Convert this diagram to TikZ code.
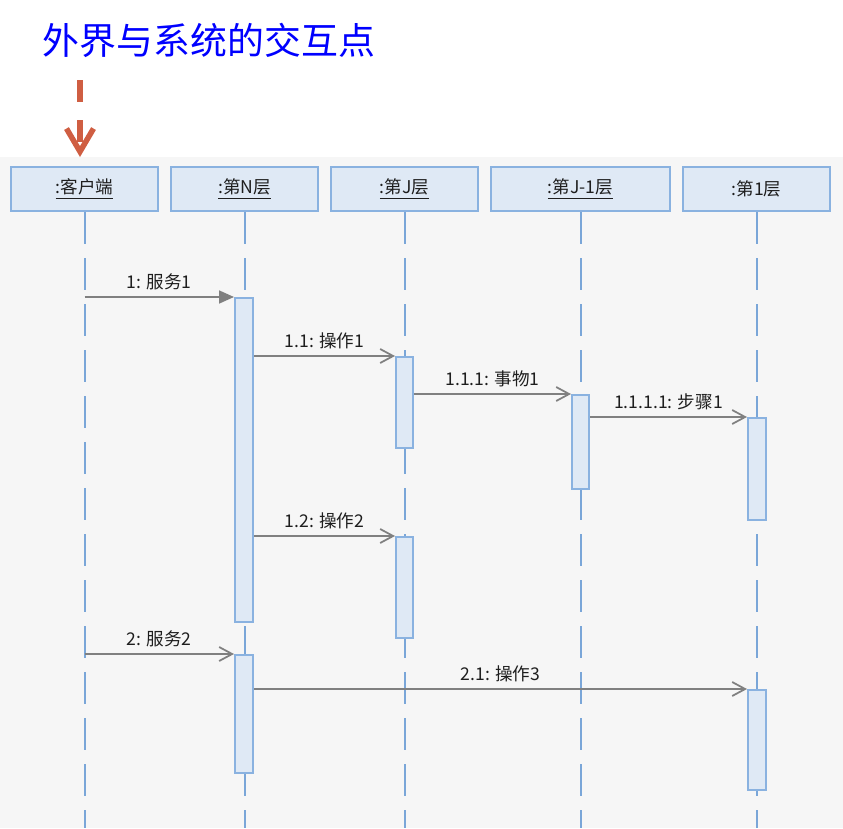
\documentclass[tikz,border=0pt]{standalone}
\usepackage{fontspec}
\setmainfont{Noto Sans CJK SC}
\usepackage{tikz}
\usetikzlibrary{arrows.meta, positioning, fit, backgrounds}
\definecolor{titlecolor}{RGB}{0,0,255}
\definecolor{cuecolor}{RGB}{207,94,66}
\definecolor{lifecolor}{RGB}{122,166,216}
\definecolor{boxfill}{RGB}{223,233,245}
\definecolor{boxline}{RGB}{138,178,224}
\definecolor{msgcolor}{RGB}{128,128,128}
\definecolor{paper}{RGB}{246,246,246}
\definecolor{textcolor}{RGB}{30,30,30}

\begin{document}
\begin{tikzpicture}[x=0.2mm, y=-0.2mm,
    lifebox/.style={rectangle, draw=boxline, line width=0.4mm, fill=boxfill, minimum width=29.4mm, minimum height=8.8mm, inner sep=0pt, text=textcolor, font=\fontsize{10}{12}\selectfont},
    lifeline/.style={draw=lifecolor, line width=0.4mm, dash pattern=on 6.4mm off 2.8mm},
    actbar/.style={rectangle, draw=boxline, line width=0.4mm, fill=boxfill, inner sep=0pt},
    msg/.style={draw=msgcolor, line width=0.35mm, -{Straight Barb[length=2.6mm, width=2.8mm]}},
    msgfill/.style={draw=msgcolor, line width=0.35mm, -{Triangle[length=3mm, width=2.6mm]}, msgcolor},
    msglabel/.style={midway, above, inner sep=1.2mm, text=textcolor, font=\fontsize{10}{12}\selectfont}]
    \useasboundingbox (0,0) rectangle (843,828);
    \fill[paper] (0,157) rectangle (843,828);

    % title and cue
    \node[text=titlecolor, font=\fontsize{21}{25}\selectfont] (title) at (209,40) {外界与系统的交互点};
    \coordinate (cuestart) at (80,80);
    \coordinate (cueend) at (80,157);
    \draw[cuecolor, line width=1.1mm, dash pattern=on 4.4mm off 3.6mm, -{Straight Barb[length=4.6mm, width=5.4mm]}] (cuestart) -- (cueend);

    % lifelines
    \node[lifebox] (client) at (84.5,189) {\underline{:客户端}};
    \node[lifebox] (layerN) at (244.5,189) {\underline{:第N层}};
    \node[lifebox] (layerJ) at (404.5,189) {\underline{:第J层}};
    \node[lifebox, minimum width=35.8mm] (layerJm) at (580.5,189) {\underline{:第J-1层}};
    \node[lifebox] (layer1) at (756.5,189) {:第1层};
    \foreach \n in {client, layerN, layerJ, layerJm, layer1}
        \draw[lifeline] (\n.south) -- (\n.south |- 0,828);

    % activations
    \node[actbar, fit={(235,298) (253,622)}] (nbar1) {};
    \node[actbar, fit={(396,357) (413,448)}] (jbar1) {};
    \node[actbar, fit={(572,395) (589,489)}] (jmbar) {};
    \node[actbar, fit={(748,418) (766,520)}] (onebar1) {};
    \node[actbar, fit={(396,537) (413,638)}] (jbar2) {};
    \node[actbar, fit={(235,655) (253,773)}] (nbar2) {};
    \node[actbar, fit={(748,690) (766,790)}] (onebar2) {};

    % messages
    \draw[msgfill] (client |- nbar1.north) -- node[msglabel] {1: 服务1} (nbar1.north west);
    \draw[msg] (nbar1.east |- jbar1.north) -- node[msglabel] {1.1: 操作1} (jbar1.north west);
    \draw[msg] (jbar1.east |- jmbar.north) -- node[msglabel] {1.1.1: 事物1} (jmbar.north west);
    \draw[msg] (jmbar.east |- onebar1.north) -- node[msglabel] {1.1.1.1: 步骤1} (onebar1.north west);
    \draw[msg] (nbar1.east |- jbar2.north) -- node[msglabel] {1.2: 操作2} (jbar2.north west);
    \draw[msg] (client |- nbar2.north) -- node[msglabel] {2: 服务2} (nbar2.north west);
    \draw[msg] (nbar2.east |- onebar2.north) -- node[msglabel] {2.1: 操作3} (onebar2.north west);
\end{tikzpicture}
\end{document}
